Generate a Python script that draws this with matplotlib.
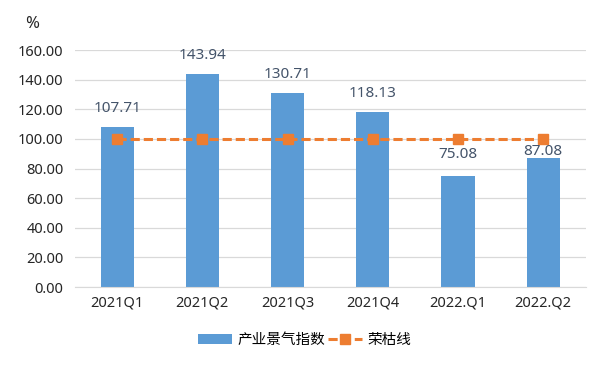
import matplotlib
matplotlib.use("Agg")
import matplotlib.pyplot as plt
import numpy as np

plt.rcParams['font.family'] = ['Noto Sans', 'Noto Sans CJK SC', 'DejaVu Sans']

# data
categories = ["2021Q1", "2021Q2", "2021Q3", "2021Q4", "2022.Q1", "2022.Q2"]
index_values = [107.71, 143.94, 130.71, 118.13, 75.08, 87.08]
boom_line = [100, 100, 100, 100, 100, 100]
y_ticks = [0, 20, 40, 60, 80, 100, 120, 140, 160]
# label offsets above bar tops (points); last one pushed down to dodge the line
label_offsets = [13.5, 13.5, 13.5, 13.5, 15, 5]

fig = plt.figure(figsize=(6.16, 3.68), dpi=100)
ax = fig.add_axes([0.121, 0.22, 0.83, 0.644])

x = np.arange(len(categories))
bars = ax.bar(x, index_values, width=0.39, color="#5B9BD5", label="产业景气指数", zorder=2)
line, = ax.plot(x, boom_line, color="#ED7D31", linestyle=(0, (3, 1.3)), linewidth=2.2,
                marker="s", markersize=6.5, label="荣枯线", zorder=3)

for xi, v, off in zip(x, index_values, label_offsets):
    ax.annotate(f"{v:.2f}", (xi, v), xytext=(0, off), textcoords="offset points",
                ha="center", va="center", fontsize=11, color="#44546A")

ax.set_xlim(-0.5, len(categories) - 0.5)
ax.set_ylim(0, 160)
ax.set_yticks(y_ticks)
ax.set_yticklabels([f"{t:.2f}" for t in y_ticks])
ax.set_xticks(x)
ax.set_xticklabels(categories)
ax.tick_params(axis="both", length=0, labelsize=10.5, colors="#262626")
ax.tick_params(axis="y", pad=8)
ax.tick_params(axis="x", pad=6)
ax.grid(axis="y", color="#D9D9D9", linewidth=0.9, zorder=0)
ax.set_axisbelow(True)
for s in ["top", "right", "left"]:
    ax.spines[s].set_visible(False)
ax.spines["bottom"].set_color("#D9D9D9")

fig.text(0.04, 0.935, "%", fontsize=12, color="#262626", va="center")

fig.legend(handles=[bars, line], loc="center", bbox_to_anchor=(0.495, 0.075), ncol=2,
           frameon=False, fontsize=10.5, handlelength=2.3, columnspacing=0.2,
           handletextpad=0.4)

fig.savefig("out.png", dpi=100)
